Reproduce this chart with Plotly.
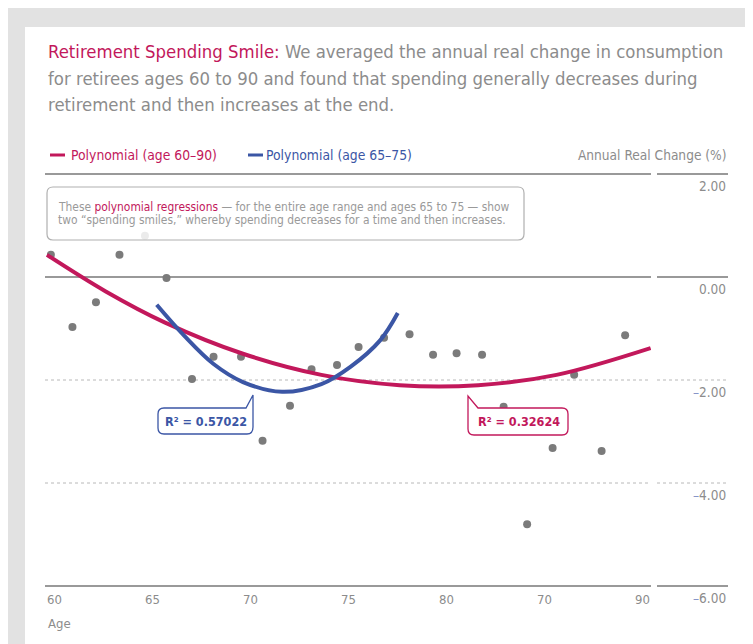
import plotly.graph_objects as go

# scatter: average annual real change in consumption by age
ages = [60.2, 61.3, 62.5, 63.7, 65.0, 66.1, 67.4, 68.5, 69.9, 71.0, 72.4, 73.5, 74.8,
        75.9, 77.2, 78.5, 79.7, 80.9, 82.2, 83.3, 84.5, 85.8, 86.9, 88.3, 89.5, 91.1]
change = [0.43, -0.97, -0.49, 0.43, 0.80, -0.02, -1.98, -1.55, -1.55, -3.18, -2.50, -1.79, -1.71,
          -1.36, -1.18, -1.11, -1.51, -1.48, -1.51, -2.52, -4.80, -3.32, -1.90, -3.38, -1.13, 1.10]

# polynomial fits
poly_all_x = [60, 63, 66, 70, 74, 78, 82, 86, 90.8]
poly_all_y = [0.43, -0.28, -0.88, -1.49, -1.90, -2.10, -2.10, -1.90, -1.38]
poly_mid_x = [65.6, 67, 68.5, 70, 72, 74, 75.5, 77, 77.9]
poly_mid_y = [-0.54, -1.14, -1.69, -2.04, -2.23, -2.08, -1.74, -1.23, -0.70]

x_ticks = [60, 65, 70, 75, 80, 85, 90]
x_labels = ["60", "65", "70", "75", "80", "70", "90"]
y_ticks = [2, 0, -2, -4, -6]
y_labels = ["2.00", "0.00", "–2.00", "–4.00", "–6.00"]

PINK = "#c2185b"
BLUE = "#3b56a5"
GREY = "#8c8c8c"
FONT = "DejaVu Sans Condensed, sans-serif"

# the page has an 8px body margin, so the figure starts at (8, 8)
OFF = 8
W, H = 753, 644
X0, X1, Y0, Y1 = 45, 651, 174, 586   # plot area in page pixels
PW, PH = X1 - X0, Y1 - Y0


def px(x):
    return (x - X0) / PW


def py(y):
    return (Y1 - y) / PH


fig = go.Figure()
fig.add_scatter(x=ages, y=change, mode="markers", cliponaxis=False,
                marker=dict(size=8, color="#7b7b7b"), showlegend=False)
fig.add_scatter(x=poly_all_x, y=poly_all_y, mode="lines", line_shape="spline",
                line=dict(color=PINK, width=4), showlegend=False)
fig.add_scatter(x=poly_mid_x, y=poly_mid_y, mode="lines", line_shape="spline",
                line=dict(color=BLUE, width=4), showlegend=False)

shapes = []
# white card
shapes.append(dict(type="rect", xref="paper", yref="paper", x0=px(25), x1=px(745),
                   y0=py(700), y1=py(27), fillcolor="white", line_width=0, layer="below"))
# gridlines, plus the short segments under the value labels
for v in y_ticks:
    yy = (v + 6) / 8
    solid = v in (2, 0, -6)
    style = dict(color="#999999" if solid else "#b8b8b8", width=2 if solid else 1,
                 dash="solid" if solid else "dot")
    for a, b in ((45, 651), (657, 728)):
        shapes.append(dict(type="line", xref="paper", yref="paper", x0=px(a), x1=px(b),
                           y0=yy, y1=yy, line=style, layer="below"))

# legend swatches
for a, c in ((50, PINK), (248, BLUE)):
    shapes.append(dict(type="line", xref="paper", yref="paper", x0=px(a), x1=px(a + 15),
                       y0=py(155), y1=py(155), line=dict(color=c, width=3)))


def rbox(x0, y0, x1, y1, r=6):
    # rounded box path in paper coords
    return (f"M {px(x0 + r)},{py(y0)} "
            f"L {px(x1 - r)},{py(y0)} Q {px(x1)},{py(y0)} {px(x1)},{py(y0 + r)} "
            f"L {px(x1)},{py(y1 - r)} Q {px(x1)},{py(y1)} {px(x1 - r)},{py(y1)} "
            f"L {px(x0 + r)},{py(y1)} Q {px(x0)},{py(y1)} {px(x0)},{py(y1 - r)} "
            f"L {px(x0)},{py(y0 + r)} Q {px(x0)},{py(y0)} {px(x0 + r)},{py(y0)} Z")


shapes.append(dict(type="path", xref="paper", yref="paper", path=rbox(47, 187, 524, 240),
                   fillcolor="rgba(255,255,255,0.85)", line=dict(color="#b0b0b0", width=1.2)))
shapes.append(dict(type="path", xref="paper", yref="paper",
                   path=(f"M {px(164)},{py(408)} L {px(246)},{py(408)} L {px(253)},{py(395)} "
                         f"L {px(253)},{py(427)} Q {px(253)},{py(434)} {px(247)},{py(434)} "
                         f"L {px(164)},{py(434)} Q {px(158)},{py(434)} {px(158)},{py(428)} "
                         f"L {px(158)},{py(414)} Q {px(158)},{py(408)} {px(164)},{py(408)} Z"),
                   fillcolor="white", line=dict(color=BLUE, width=1.3)))
shapes.append(dict(type="path", xref="paper", yref="paper",
                   path=(f"M {px(478)},{py(408)} L {px(562)},{py(408)} "
                         f"Q {px(568)},{py(408)} {px(568)},{py(414)} L {px(568)},{py(429)} "
                         f"Q {px(568)},{py(435)} {px(562)},{py(435)} L {px(474)},{py(435)} "
                         f"Q {px(468)},{py(435)} {px(468)},{py(429)} L {px(468)},{py(396)} Z"),
                   fillcolor="white", line=dict(color=PINK, width=1.3)))

ann = []
title_lines = [
    f"<span style='color:{PINK}'>Retirement Spending Smile:</span> We averaged the annual real change in consumption",
    "for retirees ages 60 to 90 and found that spending generally decreases during",
    "retirement and then increases at the end.",
]
for i, t in enumerate(title_lines):
    ann.append(dict(xref="paper", yref="paper", x=px(46), y=py(52 + 26 * i), xanchor="left",
                    yanchor="middle", showarrow=False,
                    font=dict(size=18.4, color=GREY, family=FONT), text=t))
ann.append(dict(xref="paper", yref="paper", x=px(69), y=py(155), xanchor="left", yanchor="middle",
                showarrow=False, font=dict(size=13.8, color=PINK, family=FONT),
                text="Polynomial (age 60–90)"))
ann.append(dict(xref="paper", yref="paper", x=px(264), y=py(155), xanchor="left", yanchor="middle",
                showarrow=False, font=dict(size=13.8, color=BLUE, family=FONT),
                text="Polynomial (age 65–75)"))
ann.append(dict(xref="paper", yref="paper", x=px(728), y=py(155), xanchor="right", yanchor="middle",
                showarrow=False, font=dict(size=13.6, color=GREY, family=FONT),
                text="Annual Real Change (%)"))
box_lines = [
    f"These <span style='color:{PINK}'>polynomial regressions</span> — for the entire age range and ages 65 to 75 — show",
    "two “spending smiles,” whereby spending decreases for a time and then increases.",
]
for i, t in enumerate(box_lines):
    ann.append(dict(xref="paper", yref="paper", x=px(56), y=py(207 + 13 * i), xanchor="left",
                    yanchor="middle", showarrow=False,
                    font=dict(size=11.9, color="#9a9a9a", family=FONT), text=t))
ann.append(dict(xref="paper", yref="paper", x=px(206), y=py(421), xanchor="center",
                yanchor="middle", showarrow=False,
                font=dict(size=12.5, color=BLUE, family=FONT), text="<b>R² = 0.57022</b>"))
ann.append(dict(xref="paper", yref="paper", x=px(519), y=py(421), xanchor="center",
                yanchor="middle", showarrow=False,
                font=dict(size=12.5, color=PINK, family=FONT), text="<b>R² = 0.32624</b>"))
for v, t in zip(x_ticks, x_labels):
    ann.append(dict(xref="x", yref="paper", x=v, y=py(599), xanchor="left", yanchor="middle",
                    xshift=-2, showarrow=False, font=dict(size=13, color=GREY, family=FONT), text=t))
ann.append(dict(xref="paper", yref="paper", x=px(46), y=py(623), xanchor="left", yanchor="middle",
                showarrow=False, font=dict(size=13, color=GREY, family=FONT), text="Age"))
for v, t in zip(y_ticks, y_labels):
    if t.startswith("–"):
        t = "<span style='color:#8795c8'>–</span>" + t[1:]
    ann.append(dict(xref="paper", yref="y", x=px(728), y=v, xanchor="right", yanchor="top",
                    yshift=-2, showarrow=False, font=dict(size=13.5, color=GREY, family=FONT), text=t))

fig.update_layout(
    width=W, height=H,
    margin=dict(l=X0 - OFF, r=W - (X1 - OFF), t=Y0 - OFF, b=H - (Y1 - OFF), autoexpand=False),
    paper_bgcolor="#e2e2e2", plot_bgcolor="rgba(0,0,0,0)",
    xaxis=dict(range=[59.9, 90.82], visible=False, fixedrange=True),
    yaxis=dict(range=[-6, 2], visible=False, fixedrange=True),
    shapes=shapes, annotations=ann, showlegend=False,
)

fig.write_html("out.html")
